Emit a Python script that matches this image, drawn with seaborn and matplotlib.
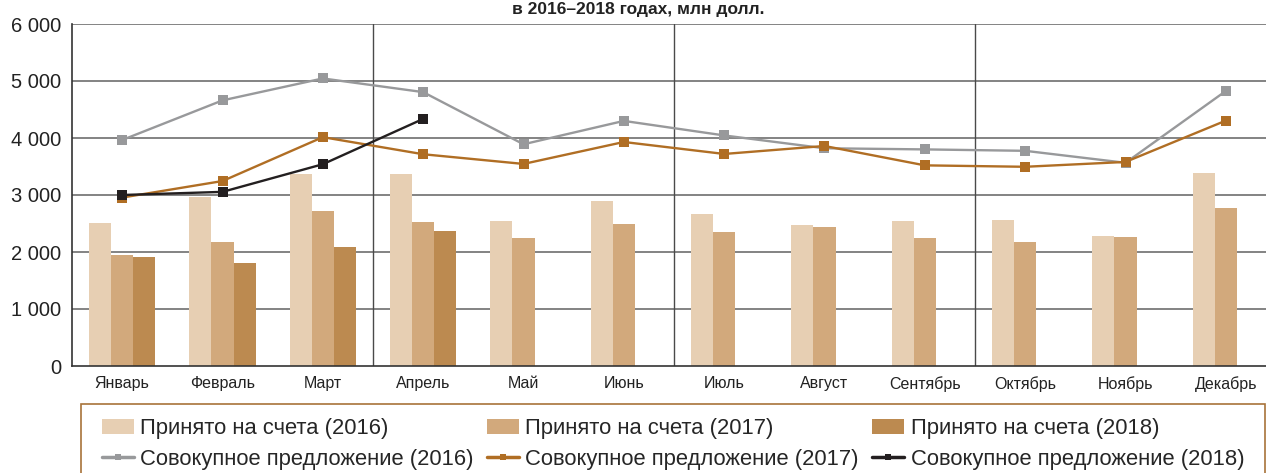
import numpy as np
import pandas as pd
import seaborn as sns
import matplotlib.pyplot as plt
from matplotlib.patches import Patch, Rectangle
from matplotlib.lines import Line2D

MONTHS = ['Январь', 'Февраль', 'Март', 'Апрель', 'Май', 'Июнь',
          'Июль', 'Август', 'Сентябрь', 'Октябрь', 'Ноябрь', 'Декабрь']
YEARS = ['2016', '2017', '2018']

# Принято на счета, млн долл.
accepted_2016 = [2510, 2960, 3360, 3360, 2550, 2890, 2660, 2470, 2540, 2560, 2280, 3380]
accepted_2017 = [1945, 2170, 2715, 2525, 2245, 2490, 2345, 2435, 2245, 2180, 2270, 2780]
accepted_2018 = [1920, 1815, 2090, 2365, None, None, None, None, None, None, None, None]

# Совокупное предложение, млн долл.
supply_2016 = [3965, 4660, 5045, 4805, 3890, 4300, 4045, 3820, 3800, 3775, 3565, 4825]
supply_2017 = [2955, 3245, 4015, 3715, 3545, 3930, 3720, 3860, 3520, 3495, 3580, 4305]
supply_2018 = [3000, 3055, 3540, 4335]

BAR_COLORS = ['#e7cfb3', '#d2a97c', '#bc8a50']
LINE_COLORS = ['#98999b', '#b06e24', '#231f20']
TICKS = [0, 1000, 2000, 3000, 4000, 5000, 6000]

bars = pd.DataFrame({
    'month': MONTHS * 3,
    'year': [y for y in YEARS for _ in MONTHS],
    'value': accepted_2016 + accepted_2017 + accepted_2018,
}).dropna()

sns.set_theme(style='white')
plt.rcParams['font.family'] = ['Liberation Sans', 'DejaVu Sans']

W, H = 1266, 473
fig = plt.figure(figsize=(W / 100, H / 100), dpi=100)
ax = fig.add_axes([72 / W, 107 / H, 1204 / W, 342 / H])

sns.barplot(data=bars, x='month', y='value', hue='year', order=MONTHS,
            hue_order=YEARS, palette=BAR_COLORS, width=0.66, saturation=1,
            errorbar=None, linewidth=0, legend=False, ax=ax, zorder=2)

pos = np.arange(len(MONTHS))
for vals, col in zip([supply_2016, supply_2017, supply_2018], LINE_COLORS):
    sns.lineplot(x=pos[:len(vals)], y=vals, color=col, linewidth=1.7,
                 marker='s', markersize=7, markeredgewidth=0,
                 legend=False, ax=ax, zorder=4)

ax.set_xlim(-0.5, 11.5)
ax.set_ylim(0, 6000)
ax.set_xlabel('')
ax.set_ylabel('')

for v in TICKS[1:]:
    ax.axhline(v, color='#6e6e6e', lw=1.2, zorder=1)
for xq in [2.5, 5.5, 8.5]:
    ax.axvline(xq, color='#4a4a4a', lw=1.0, zorder=1)

ax.set_yticks(TICKS)
ax.set_yticklabels([f'{v:,}'.replace(',', ' ') for v in TICKS], fontsize=14.5)
ax.set_xticks(pos)
ax.set_xticklabels(MONTHS, fontsize=11.5)
ax.set_xticks(pos[:-1] + 0.5, minor=True)
ax.tick_params(axis='x', which='major', length=0, pad=7, colors='#222222')
ax.tick_params(axis='x', which='minor', length=4, width=1, color='#333333', direction='out')
ax.tick_params(axis='y', length=4, width=1, color='#333333', direction='out',
               pad=4, colors='#222222')

for s in ['top', 'right']:
    ax.spines[s].set_visible(False)
for s in ['left', 'bottom']:
    ax.spines[s].set_color('#333333')
    ax.spines[s].set_linewidth(1.2)

fig.text(638 / W, 1 - 2 / H, 'в 2016–2018 годах, млн долл.', ha='center',
         va='top', fontsize=12.5, fontweight='bold', color='#222222')

handles = []
for i, y in enumerate(YEARS):
    handles.append(Patch(facecolor=BAR_COLORS[i], edgecolor='none',
                         label=f'Принято на счета ({y})'))
    handles.append(Line2D([], [], color=LINE_COLORS[i], lw=2.5, marker='s',
                          markersize=5, markeredgewidth=0,
                          label=f'Совокупное предложение ({y})'))

fig.legend(handles=handles, ncol=3, loc='upper left',
           bbox_to_anchor=(102 / W, 1 - 418 / H), frameon=False,
           fontsize=15.8, handlelength=1.45, handleheight=0.65,
           handletextpad=0.3, columnspacing=0.6, labelspacing=0.45,
           borderpad=0, borderaxespad=0)
fig.patches.append(Rectangle((81 / W, -0.05), (1265 - 81) / W, 0.05 + (473 - 404) / H,
                             transform=fig.transFigure, fill=False,
                             edgecolor='#a8733a', lw=1.2))

fig.savefig('out.png', dpi=100)
